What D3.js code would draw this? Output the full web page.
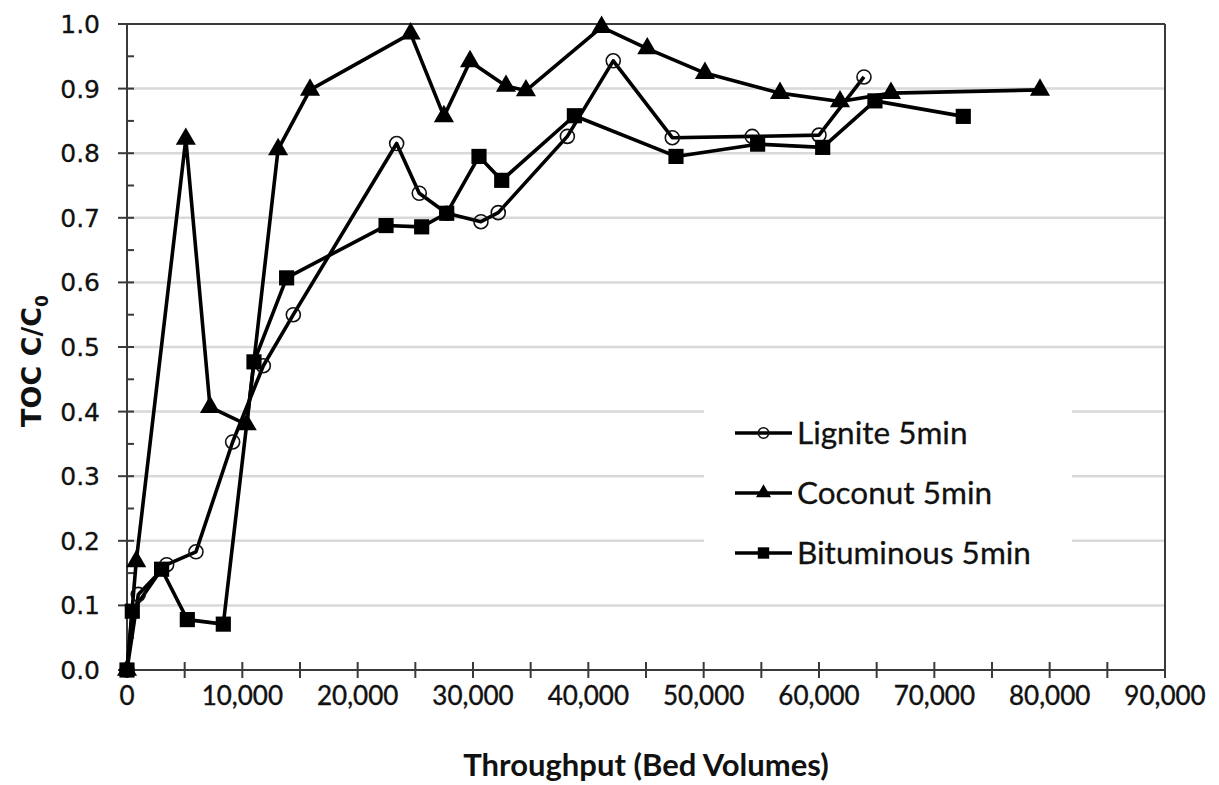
<!DOCTYPE html>
<html>
<head>
<meta charset="utf-8">
<script src="https://cdn.jsdelivr.net/npm/d3@7"></script>
<style>
  html, body { margin: 0; padding: 0; background: #fff; }
  svg { display: block; }
</style>
</head>
<body>
<svg id="chart" width="1219" height="785"></svg>
<script>
// ---- Data ----
const ligniteX = [0, 980, 3440, 5980, 9160, 11820, 14420, 23380, 25340, 27720, 30690, 32190, 38180, 42160, 47280, 54210, 60000, 63900];
const ligniteY = [0, 0.117, 0.163, 0.183, 0.353, 0.471, 0.55, 0.815, 0.738, 0.707, 0.694, 0.708, 0.826, 0.943, 0.824, 0.826, 0.828, 0.918];

const coconutX = [0, 800, 5100, 7200, 10380, 13100, 15870, 24590, 27480, 29740, 32860, 34590, 41150, 45110, 50110, 56620, 61820, 66240, 79160];
const coconutY = [0, 0.168, 0.822, 0.407, 0.38, 0.806, 0.898, 0.985, 0.857, 0.942, 0.904, 0.897, 0.995, 0.962, 0.924, 0.893, 0.88, 0.893, 0.898];

const bitumX = [0, 460, 3000, 5230, 8350, 11010, 13840, 22460, 25550, 27720, 30520, 32490, 38790, 47600, 54680, 60320, 64850, 72510];
const bitumY = [0, 0.091, 0.156, 0.078, 0.071, 0.477, 0.607, 0.688, 0.686, 0.707, 0.795, 0.758, 0.858, 0.795, 0.814, 0.809, 0.881, 0.857];

const seriesNames = ["Lignite 5min", "Coconut 5min", "Bituminous 5min"];
const xTickValues = [0, 10000, 20000, 30000, 40000, 50000, 60000, 70000, 80000, 90000];
const yTickValues = [0, 0.1, 0.2, 0.3, 0.4, 0.5, 0.6, 0.7, 0.8, 0.9, 1.0];

// ---- Layout ----
const svg = d3.select("#chart");
const L = 127, R = 1165, T = 24, B = 670;
const x = d3.scaleLinear().domain([0, 90000]).range([L, R]);
const y = d3.scaleLinear().domain([0, 1]).range([B, T]);
const ink = "#111";

// gridlines
svg.append("g").selectAll("line")
  .data(yTickValues.filter(v => v > 0 && v < 1))
  .join("line")
  .attr("x1", L).attr("x2", R)
  .attr("y1", d => y(d)).attr("y2", d => y(d))
  .attr("stroke", "#d9d9d9").attr("stroke-width", 2.5);

// frame top & right
svg.append("line").attr("x1", L).attr("x2", R).attr("y1", T).attr("y2", T)
  .attr("stroke", "#3a3a3a").attr("stroke-width", 2);
svg.append("line").attr("x1", R).attr("x2", R).attr("y1", T).attr("y2", B)
  .attr("stroke", "#3a3a3a").attr("stroke-width", 2);

// legend background (masks gridlines)
svg.append("rect").attr("x", 704).attr("y", 375).attr("width", 368).attr("height", 210)
  .attr("fill", "#fff");

// x axis
const xAxisG = svg.append("g").attr("transform", `translate(0,${B})`);
xAxisG.append("line").attr("x1", L).attr("x2", R).attr("stroke", "#3a3a3a").attr("stroke-width", 2);
xAxisG.selectAll("line.t").data(d3.range(0, 90001, 5000)).join("line").attr("class", "t")
  .attr("x1", d => x(d)).attr("x2", d => x(d)).attr("y1", -8).attr("y2", 8)
  .attr("stroke", "#3a3a3a").attr("stroke-width", 2);
xAxisG.selectAll("text").data(xTickValues).join("text")
  .attr("x", d => x(d)).attr("y", 35)
  .attr("text-anchor", "middle")
  .attr("font-family", "Lato, 'Open Sans', sans-serif").attr("font-size", 26)
  .attr("fill", ink).attr("stroke", ink).attr("stroke-width", 0.4)
  .text(d => d3.format(",")(d));

// y axis
const yAxisG = svg.append("g").attr("transform", `translate(${L},0)`);
yAxisG.append("line").attr("y1", T).attr("y2", B).attr("stroke", "#3a3a3a").attr("stroke-width", 2);
yAxisG.selectAll("line.t").data(yTickValues).join("line").attr("class", "t")
  .attr("x1", -9).attr("x2", 7).attr("y1", d => y(d)).attr("y2", d => y(d))
  .attr("stroke", "#3a3a3a").attr("stroke-width", 2);
yAxisG.selectAll("line.m").data(d3.range(0.05, 1, 0.1)).join("line").attr("class", "m")
  .attr("x1", 0).attr("x2", 7).attr("y1", d => y(d)).attr("y2", d => y(d))
  .attr("stroke", "#3a3a3a").attr("stroke-width", 2);
yAxisG.selectAll("text").data(yTickValues).join("text")
  .attr("x", -27).attr("y", d => y(d)).attr("dy", "0.36em")
  .attr("text-anchor", "end")
  .attr("font-family", "'DejaVu Sans', Verdana, sans-serif").attr("font-size", 25)
  .attr("fill", ink).attr("stroke", ink).attr("stroke-width", 0.3)
  .text(d => d.toFixed(1));

// axis titles
svg.append("text").attr("x", (L + R) / 2).attr("y", 776).attr("text-anchor", "middle")
  .attr("font-family", "Lato, 'Open Sans', sans-serif").attr("font-weight", "bold").attr("font-size", 31)
  .attr("fill", ink).text("Throughput (Bed Volumes)");
const yt = svg.append("text").attr("transform", `translate(41,${(T + B) / 2 + 14}) rotate(-90)`)
  .attr("text-anchor", "middle")
  .attr("font-family", "'DejaVu Sans', Verdana, sans-serif").attr("font-weight", "bold").attr("font-size", 27)
  .attr("fill", ink);
yt.append("tspan").text("TOC C/C");
yt.append("tspan").attr("font-size", 17).attr("dy", 7).text("0");

// ---- series ----
const line = d3.line().x(d => x(d[0])).y(d => y(d[1]));
const series = [
  { name: seriesNames[0], pts: d3.zip(ligniteX, ligniteY), marker: "circle" },
  { name: seriesNames[1], pts: d3.zip(coconutX, coconutY), marker: "triangle" },
  { name: seriesNames[2], pts: d3.zip(bitumX, bitumY), marker: "square" }
];

function drawMarkers(g, pts, marker, scale) {
  const s = scale || 1;
  if (marker === "circle") {
    g.selectAll("circle").data(pts).join("circle")
      .attr("cx", d => d[0]).attr("cy", d => d[1]).attr("r", 7 * s)
      .attr("fill", "none").attr("stroke", "#111").attr("stroke-width", 1.6);
  } else if (marker === "triangle") {
    g.selectAll("path").data(pts).join("path")
      .attr("d", d3.symbol().type(d3.symbolTriangle).size(175 * s * s)())
      .attr("transform", d => `translate(${d[0]},${d[1]})`)
      .attr("fill", "#000");
  } else {
    g.selectAll("path").data(pts).join("path")
      .attr("d", d3.symbol().type(d3.symbolSquare).size(230 * s * s)())
      .attr("transform", d => `translate(${d[0]},${d[1]})`)
      .attr("fill", "#000");
  }
}

series.forEach(s => {
  svg.append("path").datum(s.pts).attr("d", line)
    .attr("fill", "none").attr("stroke", "#000").attr("stroke-width", 3.6)
    .attr("stroke-linejoin", "round");
});
series.forEach(s => {
  const g = svg.append("g");
  drawMarkers(g, s.pts.map(d => [x(d[0]), y(d[1])]), s.marker);
});

// ---- legend ----
const legY = [433, 493, 553];
series.forEach((s, i) => {
  const g = svg.append("g");
  g.append("line").attr("x1", 735).attr("x2", 792).attr("y1", legY[i]).attr("y2", legY[i])
    .attr("stroke", "#000").attr("stroke-width", 3.6);
  drawMarkers(g, [[763.5, legY[i]]], s.marker, 0.75);
  g.append("text").attr("x", 797).attr("y", legY[i]).attr("dy", "0.35em")
    .attr("font-family", "Lato, 'Open Sans', sans-serif").attr("font-size", 31.5)
    .attr("fill", ink).attr("stroke", ink).attr("stroke-width", 0.3).text(s.name);
});
</script>
</body>
</html>
